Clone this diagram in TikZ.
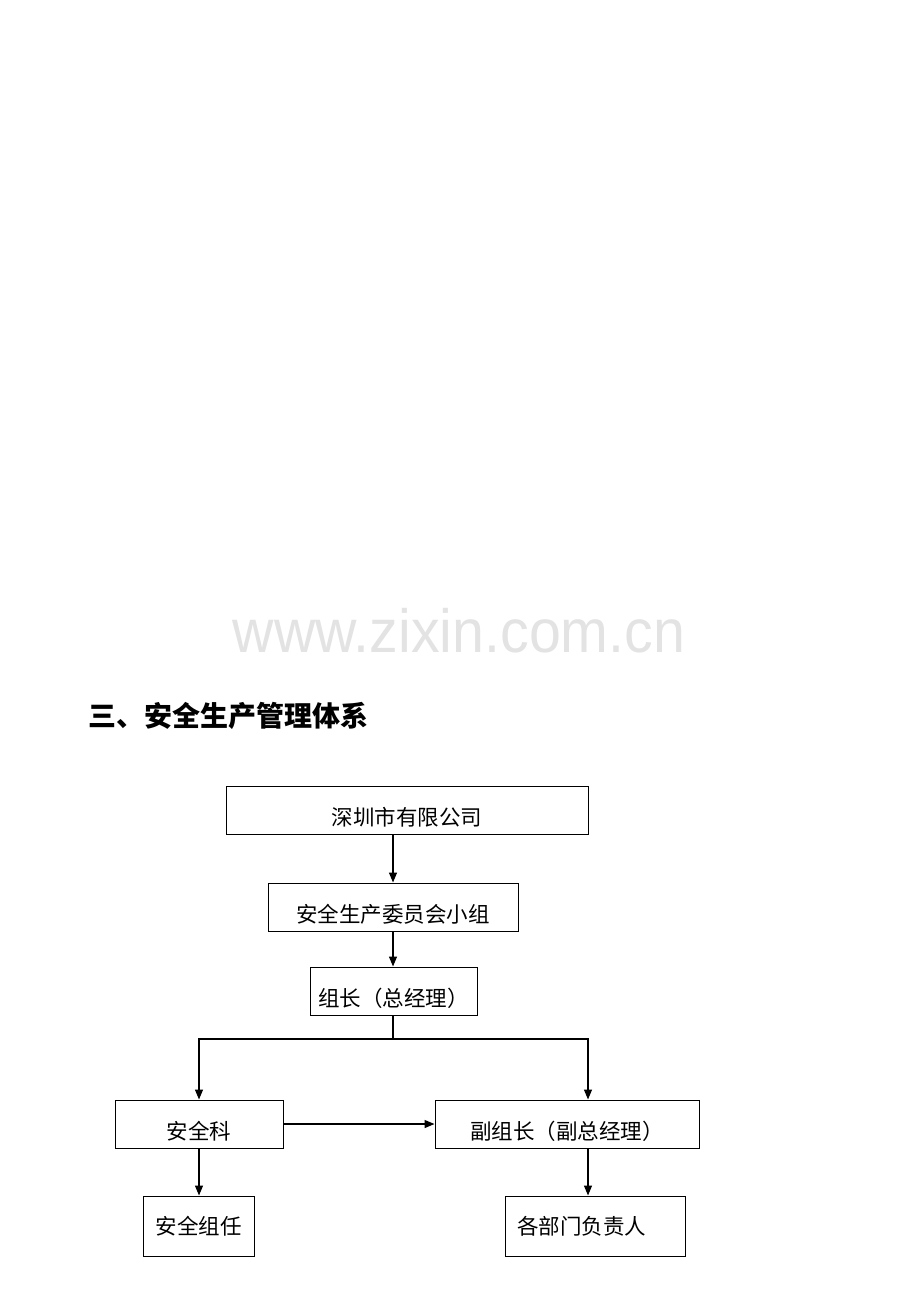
\documentclass[tikz,border=0pt]{standalone}
\usepackage{fontspec}
\usepackage{graphicx}
\usetikzlibrary{arrows.meta}
\newfontfamily\cjk{Noto Sans CJK SC}
\newfontfamily\webfont{Liberation Sans}
\tikzset{
  box/.style = {draw, line width=1pt, inner sep=0pt, minimum height=48pt,
    font=\cjk\fontsize{21.5}{22}\selectfont, text height=32pt, text depth=2pt},
  lowbox/.style = {draw, line width=1pt, inner sep=0pt, minimum height=60pt,
    font=\cjk\fontsize{21.5}{22}\selectfont},
  link/.style = {line width=1.3pt, -{Triangle[length=10pt,width=8pt]}}
}

\begin{document}
\begin{tikzpicture}[x=1pt, y=-1pt]
 \useasboundingbox (0,0) rectangle (920,1302);
 % watermark and title
 \node (web) [anchor=base, text=black!11, inner sep=0pt] at (459,652)
    {\scalebox{0.94}[1]{\webfont\fontsize{61}{61}\selectfont www.zixin.com.cn}};
 \node (title) [anchor=west, inner sep=0pt] at (88,716)
    {\cjk\bfseries\fontsize{28}{28}\selectfont 三、安全生产管理体系};
 % boxes
 \node (company) [box, minimum width=362pt] at (407,810) {深圳市有限公司};
 \node (committee) [box, minimum width=250pt] at (393,907) {安全生产委员会小组};
 \node (leader) [box, minimum width=167pt] at (393.5,991) {组长（总经理）};
 \node (safety) [box, minimum width=168pt] at (199,1124) {安全科};
 \node (deputy) [box, minimum width=264pt] at (567,1124) {副组长（副总经理）};
 \node (member) [lowbox, minimum width=111pt] at (198.5,1226) {安全组任};
 \node (heads) [lowbox, minimum width=180pt, text width=156pt, align=left] at (595,1226) {各部门负责人};
 \coordinate (split) at (393,1039);
 \coordinate (right) at (588,1039);
 % connectors
 \draw [link] (company.south -| committee) -- (committee.north);
 \draw [link] (committee) -- (leader.north -| committee);
 \draw [line width=1.3pt] (leader.south -| split) -- (split);
 \draw [link] (split) -| (safety.north);
 \draw [link] (split) -- (right) -- (right |- deputy.north);
 \draw [link] (safety.east) -- (deputy.west);
 \draw [link] (safety.south) -- (safety.south |- member.north);
 \draw [link] (right |- deputy.south) -- (right |- heads.north);
\end{tikzpicture}
\end{document}
